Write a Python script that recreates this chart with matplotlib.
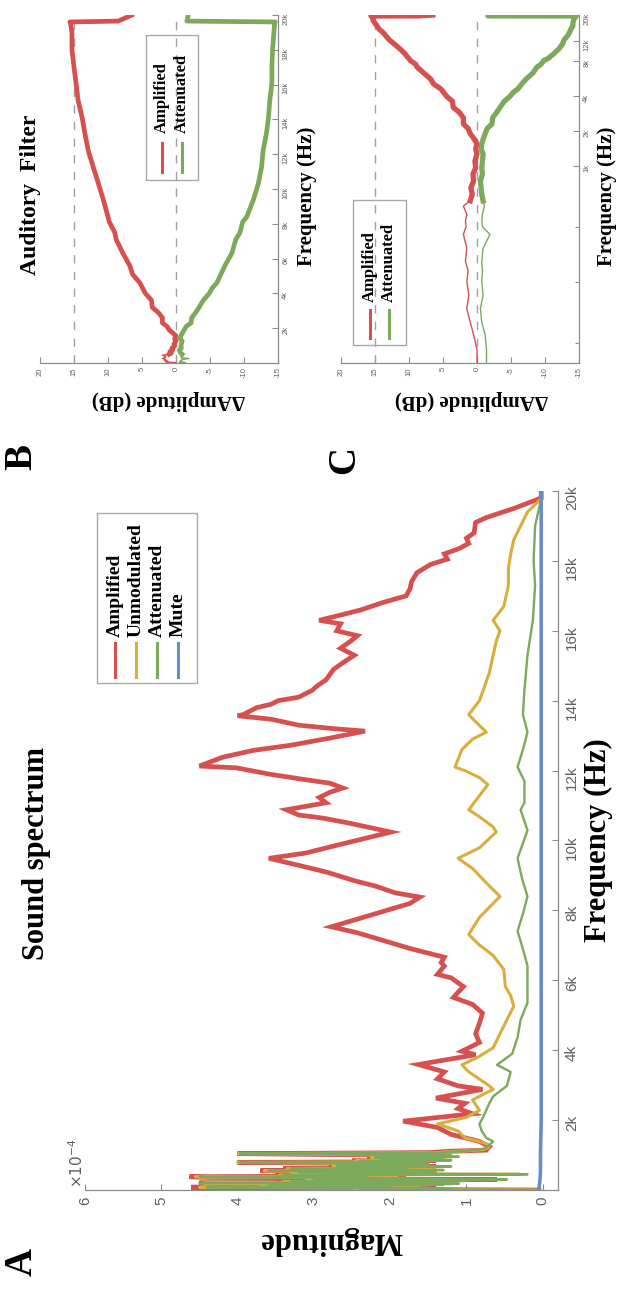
import numpy as np
import matplotlib
matplotlib.use("Agg")
import matplotlib.pyplot as plt
from matplotlib.lines import Line2D
from matplotlib.patches import Rectangle
from matplotlib.ticker import FixedLocator, NullFormatter

# ---------------- data ----------------
# Panel A : sound spectrum (frequency in kHz, magnitude in units of 1e-4)
amp_f = [0.00, 0.02, 0.04, 0.06, 0.08, 0.10, 0.12, 0.14, 0.16, 0.18, 0.20, 0.22, 0.24, 0.26, 0.28,
         0.30, 0.32, 0.34, 0.36, 0.38, 0.40, 0.42, 0.44, 0.45, 0.47, 0.49, 0.51, 0.53, 0.55, 0.57,
         0.59, 0.61, 0.63, 0.65, 0.67, 0.69, 0.71, 0.73, 0.75, 0.77, 0.79, 0.81, 0.83, 0.85, 0.87,
         0.89, 0.91, 0.93, 0.95, 0.97, 0.99, 1.01, 1.04, 1.07, 1.11, 1.14, 1.24, 1.39, 1.59, 1.79,
         1.97, 2.18, 2.33, 2.48, 2.63, 2.88, 2.98, 3.18, 3.38, 3.59, 3.87, 3.97, 4.22, 4.47, 4.77,
         5.06, 5.31, 5.51, 5.66, 5.82, 6.07, 6.17, 6.41, 6.51, 6.66, 6.76, 6.91, 7.21, 7.36, 7.53,
         7.90, 8.20, 8.38, 8.50, 8.70, 8.85, 9.10, 9.29, 9.49, 9.64, 9.89, 10.24, 10.34, 10.49, 10.64,
         10.73, 10.88, 11.08, 11.23, 11.38, 11.50, 11.64, 11.74, 11.89, 12.08, 12.13, 12.38, 12.58, 12.73, 12.93,
         13.13, 13.20, 13.30, 13.47, 13.57, 13.60, 13.80, 13.90, 14.00, 14.10, 14.30, 14.40, 14.60, 14.90, 15.10,
         15.30, 15.50, 15.70, 15.86, 16.00, 16.20, 16.30, 16.45, 16.60, 16.80, 17.00, 17.20, 17.40, 17.66, 17.90,
         18.05, 18.20, 18.35, 18.50, 18.65, 18.80, 19.10, 19.24, 19.50, 19.80, 20.00]
amp_m = [0.05, 2.5, 1.4, 3.3, 4.61, 2.2, 3.8, 1.7, 3.0, 1.3, 4.5, 2.4, 3.5, 1.2, 2.8,
         0.6, 3.2, 2.0, 4.4, 4.63, 2.5, 3.5, 1.8, 3.4, 3.0, 1.6, 3.4, 2.2, 3.7, 1.5,
         3.0, 3.4, 2.0, 2.6, 1.4, 2.8, 2.06, 2.4, 1.7, 3.1, 4.0, 1.8, 2.5, 1.4, 2.2,
         1.9, 1.5, 2.3, 1.3, 2.0, 1.4, 2.6, 4.0, 1.5, 1.2, 0.74, 0.70, 0.83, 1.20, 1.38,
         1.83, 0.92, 1.11, 1.02, 1.40, 0.79, 1.11, 1.38, 1.29, 1.63, 0.88, 1.06, 0.83, 0.88, 0.83,
         0.79, 0.92, 1.17, 1.11, 1.04, 1.20, 1.38, 1.29, 1.33, 1.29, 1.47, 1.74, 2.20, 2.43, 2.77,
         2.20, 1.74, 1.61, 1.93, 2.20, 2.47, 2.84, 3.20, 3.59, 3.11, 2.65, 1.99, 2.20, 2.52, 2.88,
         3.20, 3.36, 2.84, 2.93, 2.79, 2.62, 2.79, 3.11, 3.56, 4.02, 4.50, 4.20, 3.79, 3.29, 2.79,
         2.33, 2.74, 3.20, 3.56, 4.00, 3.93, 3.75, 3.56, 3.47, 3.20, 3.02, 2.97, 2.84, 2.74, 2.61,
         2.47, 2.65, 2.52, 2.43, 2.70, 2.65, 2.93, 2.65, 2.38, 2.11, 1.79, 1.74, 1.72, 1.65, 1.47,
         1.25, 1.29, 1.10, 0.97, 1.00, 0.90, 0.88, 0.74, 0.38, 0.02, 0.02]

unm_f = [0.00, 0.02, 0.04, 0.06, 0.08, 0.10, 0.12, 0.14, 0.16, 0.18, 0.20, 0.22, 0.24, 0.26, 0.28,
         0.30, 0.32, 0.34, 0.36, 0.38, 0.40, 0.42, 0.44, 0.45, 0.47, 0.49, 0.51, 0.53, 0.55, 0.57,
         0.59, 0.61, 0.63, 0.65, 0.67, 0.69, 0.71, 0.73, 0.75, 0.77, 0.79, 0.81, 0.83, 0.85, 0.87,
         0.89, 0.91, 0.93, 0.95, 0.97, 0.99, 1.01, 1.04, 1.07, 1.11, 1.15, 1.20, 1.29, 1.39, 1.49,
         1.69, 1.89, 2.08, 2.28, 2.58, 2.88, 2.98, 3.38, 3.58, 3.80, 4.07, 4.47, 4.87, 5.26, 5.56,
         5.82, 6.31, 6.71, 7.01, 7.31, 7.80, 8.40, 8.70, 9.20, 9.49, 9.79, 10.24, 10.39, 10.68, 10.88,
         11.28, 11.60, 11.80, 12.00, 12.10, 12.60, 12.90, 13.10, 13.40, 13.60, 14.00, 14.30, 14.80, 15.30, 15.70,
         16.00, 16.30, 16.70, 17.30, 17.80, 18.20, 18.60, 19.00, 19.40, 19.80, 20.00]
unm_m = [0.05, 2.45, 1.3, 3.2, 4.5, 2.1, 3.7, 1.6, 2.95, 1.2, 4.45, 2.3, 3.4, 1.1, 2.7,
         0.5, 3.1, 1.9, 4.35, 4.55, 2.4, 3.45, 1.7, 0.3, 2.9, 1.5, 3.3, 2.1, 3.65, 1.4,
         2.95, 3.35, 1.9, 2.55, 1.3, 2.75, 1.8, 2.35, 1.6, 3.05, 4.0, 1.7, 2.45, 1.3, 2.15,
         1.8, 1.4, 2.25, 1.2, 1.95, 1.3, 2.55, 3.99, 1.4, 1.1, 0.8, 0.72, 0.70, 0.83, 1.02,
         1.11, 1.38, 1.00, 0.83, 0.92, 0.65, 0.70, 0.97, 1.06, 0.85, 0.65, 0.56, 0.47, 0.38, 0.42,
         0.49, 0.51, 0.65, 0.83, 0.97, 0.83, 0.56, 0.70, 0.92, 1.11, 0.83, 0.61, 0.65, 0.83, 0.97,
         0.83, 0.72, 0.83, 1.02, 1.15, 1.06, 0.92, 0.74, 0.88, 0.97, 0.83, 0.78, 0.70, 0.65, 0.61,
         0.56, 0.65, 0.51, 0.45, 0.45, 0.42, 0.38, 0.29, 0.20, 0.01, 0.01]

att_f = [0.00, 0.02, 0.04, 0.06, 0.08, 0.10, 0.12, 0.14, 0.16, 0.18, 0.20, 0.22, 0.24, 0.26, 0.28,
         0.30, 0.32, 0.34, 0.36, 0.38, 0.40, 0.42, 0.44, 0.45, 0.47, 0.49, 0.51, 0.53, 0.55, 0.57,
         0.59, 0.61, 0.63, 0.65, 0.67, 0.69, 0.71, 0.73, 0.75, 0.77, 0.79, 0.81, 0.83, 0.85, 0.87,
         0.89, 0.91, 0.93, 0.95, 0.97, 0.99, 1.01, 1.04, 1.07, 1.11, 1.15, 1.20, 1.29, 1.39, 1.49,
         1.69, 1.89, 2.09, 2.48, 2.68, 2.98, 3.38, 3.58, 3.90, 4.37, 4.87, 5.36, 5.86, 6.41, 6.90,
         7.41, 7.90, 8.40, 8.90, 9.49, 10.29, 10.88, 11.08, 11.70, 12.10, 12.60, 13.10, 13.60, 14.30, 15.30,
         16.30, 17.30, 18.00, 19.00, 19.80, 20.00]
att_m = [0.05, 2.4, 1.2, 3.1, 4.4, 2.0, 3.6, 1.5, 2.9, 1.1, 4.5, 2.2, 3.3, 1.0, 2.6,
         0.47, 3.0, 1.8, 4.3, 4.5, 2.3, 3.4, 1.6, 0.2, 2.8, 1.4, 3.2, 2.0, 3.6, 1.3,
         2.9, 3.3, 1.8, 2.5, 1.2, 2.7, 1.74, 2.3, 1.5, 3.0, 3.97, 1.6, 2.4, 1.2, 2.1,
         1.74, 1.3, 2.2, 1.1, 1.9, 1.2, 2.5, 3.97, 1.3, 1.06, 0.85, 0.74, 0.70, 0.65, 0.74,
         0.80, 0.83, 0.78, 0.70, 0.65, 0.47, 0.42, 0.60, 0.40, 0.33, 0.29, 0.20, 0.20, 0.20, 0.26,
         0.33, 0.26, 0.20, 0.27, 0.33, 0.20, 0.29, 0.24, 0.24, 0.33, 0.26, 0.20, 0.26, 0.24, 0.20,
         0.13, 0.10, 0.12, 0.10, 0.02, 0.02]

mute_f = [0.0, 0.05, 0.2, 0.5, 1.0, 2.0, 4.0, 6.0, 8.0, 10.0, 12.0, 14.0, 16.0, 18.0, 20.0]
mute_m = [0.06, 0.05, 0.04, 0.03, 0.03, 0.02, 0.02, 0.02, 0.02, 0.02, 0.02, 0.02, 0.02, 0.02, 0.02]

mag_ticks = [0, 1, 2, 3, 4, 5, 6]
khz_ticks = [2, 4, 6, 8, 10, 12, 14, 16, 18, 20]
khz_labels = ["2k", "4k", "6k", "8k", "10k", "12k", "14k", "16k", "18k", "20k"]

# Panels B / C : auditory filter (frequency in Hz, change in amplitude in dB)
filt_f = [20, 26, 35, 45, 59, 77, 101, 125, 150, 195, 257, 300, 333, 383, 450, 500, 570, 650,
          740, 850, 960, 1100, 1270, 1400, 1550, 1700, 1900, 2100, 2300, 2600, 2900, 3200, 3600,
          4000, 4300, 4600, 5100, 5600, 6300, 7100, 7500, 8100, 8400, 9400, 10300, 11300, 12200,
          13200, 14100, 15100, 16100, 17000, 18000, 19000, 19500, 19600, 19650, 20000]
filt_amp = [0.0, 0.0, 0.5, 1.0, 1.5, 1.2, 1.5, 1.3, 1.7, 1.5, 2.0, 1.6, 1.7, 1.5, 2.0, 1.0, 0.7, 0.9,
            0.5, 0.6, 0.2, 0.3, 0.0, 0.2, 0.0, 0.4, 1.0, 1.3, 2.0, 2.0, 2.6, 3.5, 3.6,
            4.5, 4.9, 5.3, 6.4, 6.8, 7.8, 8.8, 9.0, 9.8, 10.0, 10.7, 11.4, 12.2, 12.9,
            13.4, 13.8, 14.4, 14.7, 15.0, 15.3, 15.3, 15.5, 15.6, 8.5, 6.5]
filt_att = [-1.4, -1.4, -1.2, -0.7, -0.5, -0.9, -0.7, -0.8, -0.7, -0.9, -1.9, -0.8, -0.7, -0.8, -1.1, -0.9, -0.7, -0.6,
            -0.5, -0.8, -0.7, -0.8, -0.9, -0.6, -0.7, -0.9, -1.2, -1.5, -2.2, -2.3, -2.9, -3.4, -4.0,
            -4.9, -5.3, -6.0, -6.6, -7.2, -8.2, -8.8, -9.4, -9.8, -10.4, -11.4, -12.1, -12.6, -12.8,
            -13.3, -13.6, -13.8, -14.1, -14.1, -14.2, -14.4, -14.5, -14.6, -1.6, -1.8]
db_ticks = [20, 15, 10, 5, 0, -5, -10, -15]
db_refs = [15, 0]
lin_ticks = [2000, 4000, 6000, 8000, 10000, 12000, 14000, 16000, 18000, 20000]
log_ticks = [1000, 2000, 4000, 8000, 12000, 20000]
log_labels = ["1k", "2k", "4k", "8k", "12k", "20k"]
log_minor = [30, 100, 300]

legend_A = ["Amplified", "Unmodulated", "Attenuated", "Mute"]
legend_BC = ["Amplified", "Attenuated"]

# ---------------- style ----------------
W, H = 619, 1289
SERIF = "Liberation Serif"
SANS = "Liberation Sans"
RED, YEL, GRN, BLU = "#d6504f", "#d9ae3e", "#7da95c", "#6a8cc6"
AXC, TKC = "#8c8c8c", "#606060"

fig = plt.figure(figsize=(W / 100, H / 100), dpi=100)


def frect(x0, x1, y0, y1):
    return [x0 / W, 1 - y1 / H, (x1 - x0) / W, (y1 - y0) / H]


def fx(x):
    return x / W


def fy(y):
    return 1 - y / H


def style_axes(ax, labelsize, pad):
    for s in ("top", "left"):
        ax.spines[s].set_visible(False)
    for s in ("bottom", "right"):
        ax.spines[s].set_color(AXC)
        ax.spines[s].set_linewidth(0.9)
    ax.yaxis.tick_right()
    ax.tick_params(axis="both", which="both", direction="in", color=AXC, labelcolor=TKC,
                   labelsize=labelsize, labelrotation=90, pad=pad, width=0.8)
    ax.tick_params(which="major", length=4)
    ax.tick_params(which="minor", length=3)
    for lab in ax.get_xticklabels() + ax.get_yticklabels():
        lab.set_family(SANS)
    ax.set_facecolor("none")


def manual_legend(x0, x1, y0, y1, xs, ly0, ly1, ty, labels, colors, size):
    fig.add_artist(Rectangle((fx(x0), fy(y1)), (x1 - x0) / W, (y1 - y0) / H,
                             transform=fig.transFigure, fill=False, ec="#a9a9a9", lw=1.0))
    for x, lab, c in zip(xs, labels, colors):
        fig.add_artist(Line2D([fx(x), fx(x)], [fy(ly0), fy(ly1)], transform=fig.transFigure,
                              color=c, lw=2.2))
        fig.text(fx(x), fy(ty), lab, rotation=90, ha="center", va="bottom",
                 family=SERIF, weight="bold", size=size, color="black")


# ---------------- Panel A ----------------
axA = fig.add_axes(frect(85, 558, 491, 1190))
axA.plot(amp_m, amp_f, color=RED, lw=3.4, solid_joinstyle="miter")
axA.plot(unm_m, unm_f, color=YEL, lw=2.2)
axA.plot(att_m, att_f, color=GRN, lw=1.7)
axA.plot(mute_m, mute_f, color=BLU, lw=2.6)
axA.set_xlim(6, -0.2)
axA.set_ylim(0, 20)
axA.set_xticks(mag_ticks)
axA.set_xticklabels([str(t) for t in mag_ticks])
axA.set_yticks(khz_ticks)
axA.set_yticklabels(khz_labels)
style_axes(axA, 11, 5)
axA.set_xlabel("Magnitude", rotation=180, family=SERIF, weight="bold", size=22, ha="center", va="center")
axA.xaxis.set_label_coords(0.52, (1190 - 1240) / 699)
axA.yaxis.set_label_position("right")
axA.set_ylabel("Frequency (Hz)", rotation=90, family=SERIF, weight="bold", size=22, ha="center", va="center")
axA.yaxis.set_label_coords((598 - 85) / 473, 0.5)
fig.text(fx(77), fy(1188), r"$\times10^{-4}$", rotation=90, ha="center", va="bottom",
         size=11, color=TKC)
fig.text(fx(37), fy(854), "Sound spectrum", rotation=90, ha="center", va="center",
         family=SERIF, weight="bold", size=22)
manual_legend(97, 197, 513, 683, [115, 136, 157, 178], 643, 677, 637,
              legend_A, [RED, YEL, GRN, BLU], 14)

# ---------------- Panels B and C ----------------
filt_f = np.asarray(filt_f)
lo = filt_f <= 500
hi = filt_f >= 500


def filter_panel(rect, logscale, xlab_x, ylab_x, leg, hw):
    ax = fig.add_axes(rect)
    for v in db_refs:
        ax.axvline(v, color="#a0a0a0", lw=1.0, ls=(0, (6, 6)))
    amp = np.asarray(filt_amp)
    att = np.asarray(filt_att)
    ax.plot(amp[lo], filt_f[lo], color=RED, lw=1.0)
    ax.plot(att[lo], filt_f[lo], color=GRN, lw=1.0)
    ax.plot(amp[hi], filt_f[hi], color=RED, lw=hw)
    ax.plot(att[hi], filt_f[hi], color=GRN, lw=hw)
    ax.set_xlim(20, -15)
    if logscale:
        ax.set_yscale("log")
        ax.set_ylim(20, 20000)
        ax.yaxis.set_major_locator(FixedLocator(log_ticks))
        ax.set_yticklabels(log_labels)
        ax.yaxis.set_minor_locator(FixedLocator(log_minor))
        ax.yaxis.set_minor_formatter(NullFormatter())
    else:
        ax.set_ylim(0, 20000)
        ax.set_yticks(lin_ticks)
        ax.set_yticklabels(khz_labels)
    ax.set_xticks(db_ticks)
    ax.set_xticklabels([str(t) for t in db_ticks])
    style_axes(ax, 5.5, 3)
    ax.set_xlabel("ΔAmplitude (dB)", rotation=180, family=SERIF, weight="bold", size=15,
                  ha="center", va="center")
    ax.xaxis.set_label_coords(xlab_x, (363 - 400) / 348)
    ax.yaxis.set_label_position("right")
    ax.set_ylabel("Frequency (Hz)", rotation=90, family=SERIF, weight="bold", size=15,
                  ha="center", va="center")
    ax.yaxis.set_label_coords(ylab_x, 0.48)
    manual_legend(*leg, legend_BC, [RED, GRN], 12)
    return ax


axB = filter_panel(frect(40, 278, 15, 363), False, 0.54, (307 - 40) / 238,
                   (146, 198, 35, 180, [162, 182], 143, 172, 133), 3.4)
axC = filter_panel(frect(341, 579, 15, 363), True, 0.55, (607 - 341) / 238,
                   (353, 406, 200, 345, [370, 389], 310, 338, 302), 3.8)
fig.text(fx(31), fy(195), "Auditory  Filter", rotation=90, ha="center", va="center",
         family=SERIF, weight="bold", size=17)

# panel letters
for lab, x, y in (("A", 22, 1262), ("B", 22, 457), ("C", 345, 460)):
    fig.text(fx(x), fy(y), lab, rotation=90, ha="center", va="center",
             family=SERIF, weight="bold", size=28)

fig.savefig("out.png", dpi=100)
